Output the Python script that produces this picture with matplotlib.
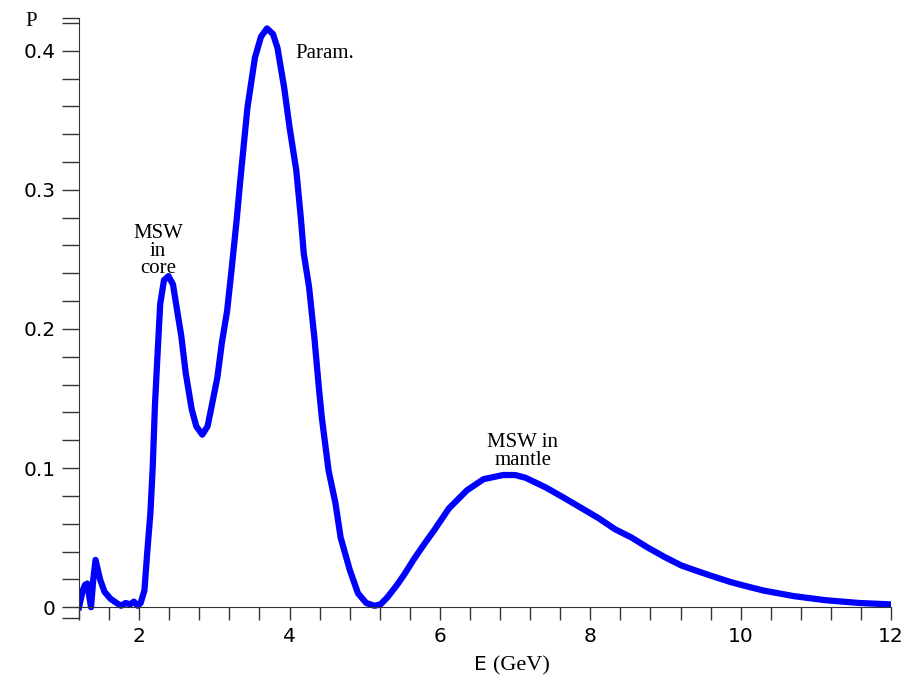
import matplotlib
matplotlib.use("Agg")
import matplotlib.pyplot as plt
import numpy as np

# valores: energia (GeV) y probabilidad P
energia = [1.2, 1.25, 1.28, 1.31, 1.33, 1.36, 1.39, 1.42, 1.48, 1.54, 1.62, 1.70,
           1.76, 1.82, 1.88, 1.93, 1.98, 2.02, 2.07, 2.11, 2.15, 2.18, 2.21, 2.24,
           2.28, 2.33, 2.39, 2.45, 2.50, 2.56, 2.62, 2.70, 2.76, 2.84, 2.91, 2.97,
           3.04, 3.10, 3.17, 3.23, 3.30, 3.34, 3.44, 3.54, 3.62, 3.70, 3.78, 3.84,
           3.93, 4.00, 4.09, 4.15, 4.19, 4.26, 4.33, 4.39, 4.43, 4.52, 4.61, 4.68,
           4.80, 4.91, 5.02, 5.13, 5.21, 5.30, 5.43, 5.52, 5.66, 5.80, 5.92, 6.12,
           6.36, 6.58, 6.84, 7.00, 7.14, 7.41, 7.67, 7.89, 8.11, 8.33, 8.55, 8.76,
           8.99, 9.21, 9.42, 9.64, 9.87, 10.08, 10.3, 10.7, 11.13, 11.58, 12.0]
prob = [0.0, 0.012, 0.016, 0.017, 0.010, 0.0, 0.020, 0.034, 0.020, 0.011, 0.006, 0.003,
        0.001, 0.003, 0.002, 0.004, 0.001, 0.003, 0.012, 0.041, 0.068, 0.100, 0.145, 0.177,
        0.218, 0.235, 0.238, 0.232, 0.215, 0.195, 0.168, 0.142, 0.130, 0.124, 0.130, 0.146,
        0.165, 0.190, 0.213, 0.243, 0.280, 0.304, 0.359, 0.395, 0.410, 0.416, 0.412, 0.402,
        0.373, 0.345, 0.314, 0.280, 0.254, 0.230, 0.194, 0.158, 0.136, 0.098, 0.075, 0.050,
        0.027, 0.010, 0.003, 0.001, 0.002, 0.007, 0.016, 0.023, 0.035, 0.046, 0.055, 0.071,
        0.084, 0.092, 0.095, 0.095, 0.093, 0.086, 0.078, 0.071, 0.064, 0.056, 0.050, 0.043,
        0.036, 0.030, 0.026, 0.022, 0.018, 0.015, 0.012, 0.008, 0.005, 0.003, 0.002]

xticks = [2, 4, 6, 8, 10, 12]
yticks = [0, 0.1, 0.2, 0.3, 0.4]
ytick_labels = ["0", "0.1", "0.2", "0.3", "0.4"]

# etiquetas de los picos
notas = [("MSW\nin\ncore", 2.25, 0.256, "center"),
         ("Param.", 4.08, 0.398, "left"),
         ("MSW in\nmantle", 7.1, 0.112, "center")]

fig = plt.figure(figsize=(9.07, 6.82), dpi=100)
ax = fig.add_axes([0.0871, 0.0938, 0.8953, 0.8798])

ax.plot(energia, prob, color="#0000ff", lw=4.5, solid_joinstyle="round")

ax.set_xlim(1.2, 12)
ax.set_ylim(-0.0078, 0.4235)

# ejes al estilo Maple: eje x en P=0
for s in ["top", "right"]:
    ax.spines[s].set_visible(False)
ax.spines["bottom"].set_position(("data", 0))
ax.spines["bottom"].set_color("#333333")
ax.spines["left"].set_color("#333333")

ax.set_xticks(xticks)
ax.set_xticklabels([str(v) for v in xticks])
ax.set_xticks(np.arange(1.2, 12.01, 0.4), minor=True)
ax.set_yticks(yticks)
ax.set_yticklabels(ytick_labels)
ax.set_yticks(list(np.arange(0, 0.421, 0.02)) + [-0.0078, 0.4235], minor=True)

ax.tick_params(axis="x", which="both", direction="out", length=9, width=1,
               color="#333333", labelsize=14.5, pad=5)
ax.tick_params(axis="y", which="both", direction="out", length=12, width=1,
               color="#333333", labelsize=14.5, pad=5)
for lab in ax.get_xticklabels() + ax.get_yticklabels():
    lab.set_family("DejaVu Sans")

for texto, x, y, ha in notas:
    ax.text(x, y, texto, ha=ha, va="center", family="Liberation Serif",
            fontsize=15, linespacing=0.88)

# titulos de los ejes
fig.text(0.034, 0.968, "P", family="Liberation Serif", fontsize=15, ha="center", va="center")
fig.text(0.523, 0.025, "E", family="DejaVu Sans", fontsize=14.5, ha="left", va="center")
fig.text(0.543, 0.023, "(GeV)", family="Liberation Serif", fontsize=16, ha="left", va="center")

fig.savefig("out.png", dpi=100)
